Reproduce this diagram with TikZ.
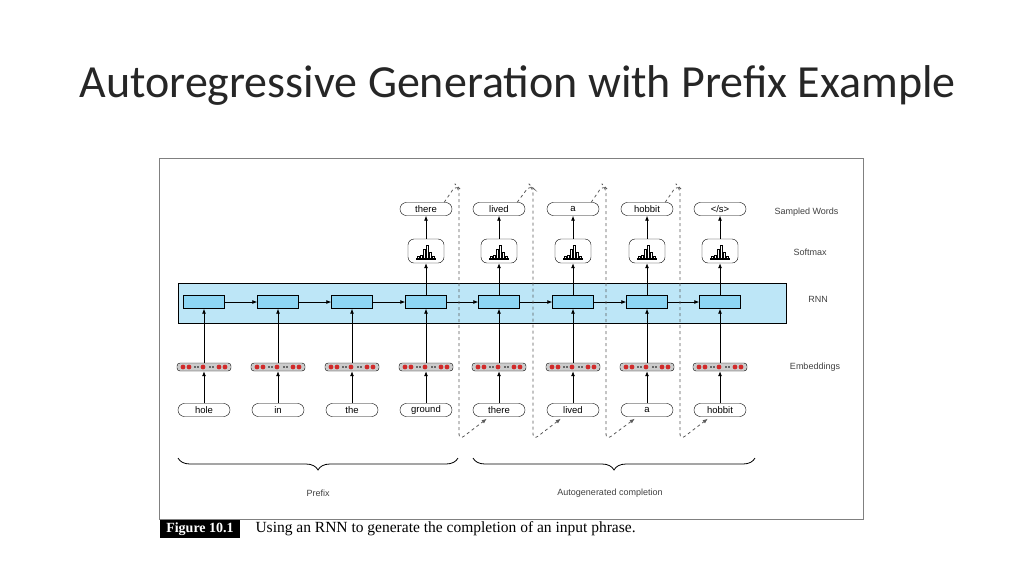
\documentclass[tikz,border=0pt]{standalone}
\usepackage{fontspec}
\setmainfont{Carlito}
\newfontfamily\figfont{Liberation Sans}
\newfontfamily\capfont{Liberation Serif}
\usetikzlibrary{arrows.meta,decorations.pathreplacing}
\definecolor{rnnband}{HTML}{BDE6F7}
\definecolor{rnncell}{HTML}{8DD6F4}
\definecolor{embred}{HTML}{D12A2A}
\begin{document}
\begin{tikzpicture}[x=1pt,y=-1pt,
  word/.style={draw,rounded corners=6.4pt,minimum width=52pt,minimum height=13pt,inner sep=0pt,font=\figfont\fontsize{9.5}{9.5}\selectfont},
  smax/.style={draw,rounded corners=6pt,minimum width=36pt,minimum height=24pt,inner sep=0pt},
  cell/.style={draw,fill=rnncell,minimum width=41pt,minimum height=13pt,inner sep=0pt},
  emb/.style={draw,fill=gray!40,rounded corners=3pt,minimum width=54pt,minimum height=8pt,inner sep=0pt},
  arr/.style={-{Latex[length=5pt,width=4pt]},thick},
  loop/.style={dashed,thick,gray!70!black,rounded corners=6pt},
  side/.style={font=\figfont\fontsize{9}{9}\selectfont,text=black!75}]
\useasboundingbox (0,0) rectangle (1024,576);
\node[font=\fontsize{46}{48}\selectfont,text=black!85,anchor=west] (title) at (76,85) {Autoregressive Generation with Prefix Example};
\draw[gray] (159,158) rectangle (863,519);
\node[draw,fill=rnnband,minimum width=608pt,minimum height=40pt,inner sep=0pt] (band) at (482,303) {};
\foreach \i/\x/\inw in {1/204/hole,2/278/in,3/352/the,4/426/ground,5/499/there,6/573/lived,7/647/a,8/720/hobbit}{
  \node[cell] (c\i) at (\x,302) {};
  \node[emb] (e\i) at (\x,367) {};
  \foreach \dx in {-21,-15,-1,15,21}{\fill[embred] (\x+\dx,367) circle (2.4pt);}
  \foreach \dx in {-9,-6,6,9}{\fill (\x+\dx,367) circle (0.9pt);}
  \node[word] (b\i) at (\x,410) {\inw};
  \draw[arr] (b\i) -- (e\i);
  \draw[arr] (e\i) -- (c\i);
}
\foreach \i/\j in {1/2,2/3,3/4,4/5,5/6,6/7,7/8}{\draw[arr] (c\i) -- (c\j);}
\foreach \i/\x/\outw in {4/426/there,5/499/lived,6/573/a,7/647/hobbit,8/720/{</s>}}{
  \node[smax] (s\i) at (\x,251) {};
  \foreach \bx/\bh in {-8/3,-5/4,-2/10,1/14,4/7,7/3}{\draw[fill=white,line width=0.6pt] (\x+\bx-1,259) rectangle (\x+\bx+1,259-\bh);}
  \draw[line width=1.2pt] (\x-10,259) -- (\x+10,259);
  \node[word] (t\i) at (\x,209) {\outw};
  \draw[arr] (c\i) -- (s\i);
  \draw[arr] (s\i) -- (t\i);
}
\foreach \i/\j/\lx in {4/5/459,5/6/533,6/7/606,7/8/680}{
  \draw[loop,-{Latex[length=5pt,width=4pt]}] ([xshift=-8pt]t\i.north east) -- (\lx-3,185) -- (\lx,188) -- (\lx,440) -- ([xshift=14pt,yshift=-2pt]b\j.south west);
}
\node[side,anchor=west] (l1) at (771,212) {Sampled Words};
\node[side] (l2) at (810,252) {Softmax};
\node[side] (l3) at (818,299) {RNN};
\node[side] (l4) at (815,367) {Embeddings};
\draw[thick,decorate,decoration={brace,mirror,amplitude=12pt}] (178,458) -- (458,458);
\draw[thick,decorate,decoration={brace,mirror,amplitude=12pt}] (473,458) -- (755,458);
\node[side] (p1) at (318,493) {Prefix};
\node[side] (p2) at (610,493) {Autogenerated completion};
\node[fill=black,text=white,font=\capfont\bfseries\fontsize{14}{14}\selectfont,inner sep=2pt,minimum height=18pt,minimum width=80pt] (fig) at (200,529) {Figure 10.1};
\node[anchor=west,font=\capfont\fontsize{15.5}{15.5}\selectfont] (cap) at (252,529) {Using an RNN to generate the completion of an input phrase.};
\end{tikzpicture}
\end{document}
